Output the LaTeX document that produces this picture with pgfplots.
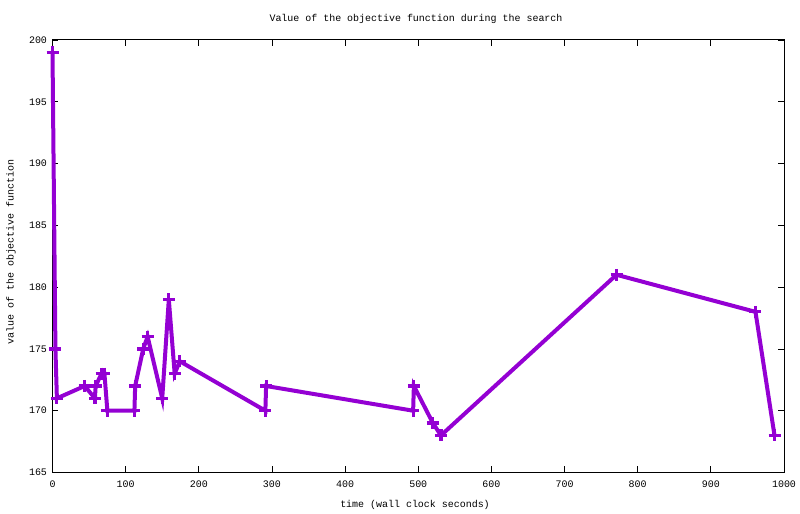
\documentclass[border=0pt]{standalone}
\usepackage{fontspec}
\setmainfont{Liberation Mono}
\setmonofont{Liberation Mono}
\usepackage{pgfplots}
\pgfplotsset{compat=1.18}
\definecolor{gpviolet}{HTML}{9400D3}
\begin{document}
\begin{tikzpicture}[x=1bp,y=1bp]
\path[use as bounding box] (0,0) rectangle (800,514);
\begin{axis}[
  at={(52.5bp,41.5bp)}, anchor=south west,
  scale only axis, width=731.5bp, height=432.5bp,
  xmin=0, xmax=1000, ymin=165, ymax=200,
  xtick distance=100, ytick distance=5,
  tick align=inside, major tick length=6bp,
  tick style={black, line width=0.8bp},
  axis line style={black, line width=1bp},
  ticklabel style={font=\fontsize{10}{10}\selectfont},
  xticklabel style={yshift=-5bp},
  yticklabel style={xshift=-2bp},
  /pgf/number format/assume math mode=true,
  /pgf/number format/1000 sep={},
  clip=false,
]
\addplot[gpviolet, line width=4bp, mark=+, mark size=6bp, mark options={line width=3.2bp}]
coordinates {
(0,199) (4,175) (6,171) (44,172) (58,171) (59,172) (67,173) (71,173) (75,170)
(112,170) (113,172) (124,175) (130,176) (150,171) (159,179) (167,173) (174,174)
(291,170) (292,172) (493,170) (494,172) (520,169) (531,168) (771,181) (961,178) (987,168)
};
\end{axis}
\node[font=\fontsize{10}{10}\selectfont] at (416,495) {Value of the objective function during the search};
\node[font=\fontsize{10}{10}\selectfont] at (415,9) {time (wall clock seconds)};
\node[font=\fontsize{10}{10}\selectfont, rotate=90] at (11,262) {value of the objective function};
\end{tikzpicture}
\end{document}
